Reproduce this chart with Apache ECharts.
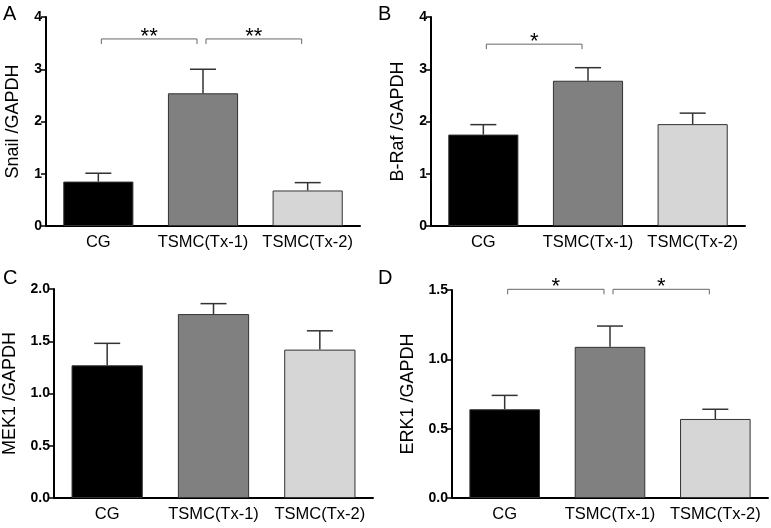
<!DOCTYPE html>
<html>
<head>
<meta charset="utf-8">
<script src="https://cdn.jsdelivr.net/npm/echarts@6/dist/echarts.min.js"></script>
<style>
html,body{margin:0;padding:0;background:#fff;}
#chart{width:771px;height:528px;}
</style>
</head>
<body>
<div id="chart"></div>
<script>
var categories = ['CG', 'TSMC(Tx-1)', 'TSMC(Tx-2)'];
var barColors = ['#000000', '#808080', '#d6d6d6'];

var snailMean = [0.85, 2.54, 0.68];
var snailErr = [0.16, 0.46, 0.15];
var brafMean = [1.75, 2.78, 1.95];
var brafErr = [0.19, 0.25, 0.21];
var mek1Mean = [1.27, 1.76, 1.42];
var mek1Err = [0.21, 0.10, 0.18];
var erk1Mean = [0.64, 1.09, 0.57];
var erk1Err = [0.10, 0.15, 0.07];

// brackets: [from, to, y, label]
var snailSig = [[0, 1, 3.58, '**'], [1, 2, 3.58, '**']];
var brafSig = [[0, 1, 3.48, '*']];
var mek1Sig = [];
var erk1Sig = [[0, 1, 1.505, '*'], [1, 2, 1.505, '*']];

var panels = [
    {name: 'Snail /GAPDH', mean: snailMean, err: snailErr, sig: snailSig, max: 4, interval: 1, dec: 0,
     grid: {left: 46, top: 17, width: 314, height: 209}},
    {name: 'B-Raf /GAPDH', mean: brafMean, err: brafErr, sig: brafSig, max: 4, interval: 1, dec: 0,
     grid: {left: 431, top: 17, width: 314, height: 209}},
    {name: 'MEK1 /GAPDH', mean: mek1Mean, err: mek1Err, sig: mek1Sig, max: 2, interval: 0.5, dec: 1,
     grid: {left: 53, top: 289, width: 320, height: 209}},
    {name: 'ERK1 /GAPDH', mean: erk1Mean, err: erk1Err, sig: erk1Sig, max: 1.5, interval: 0.5, dec: 1,
     grid: {left: 452, top: 290, width: 316, height: 208}}
];

var font = 'Liberation Sans, Arial, sans-serif';
var grids = [], xAxes = [], yAxes = [], series = [];

panels.forEach(function(p, i){
    grids.push(p.grid);
    xAxes.push({
        type: 'category', gridIndex: i, data: categories,
        axisLine: {lineStyle: {color: '#000', width: 2}},
        axisTick: {alignWithLabel: true, length: 5, lineStyle: {color: '#000', width: 1.5}},
        axisLabel: {color: '#000', fontSize: 16.5, fontFamily: font, margin: 8, interval: 0}
    });
    yAxes.push({
        type: 'value', gridIndex: i, min: 0, max: p.max, interval: p.interval,
        name: p.name, nameLocation: 'middle', nameGap: p.dec ? 35 : 24,
        nameTextStyle: {color: '#000', fontSize: 18, fontFamily: font},
        splitLine: {show: false},
        axisLine: {show: true, lineStyle: {color: '#000', width: 2}},
        axisTick: {show: true, length: 5, lineStyle: {color: '#000', width: 1.5}},
        axisLabel: {color: '#000', fontSize: 14, fontWeight: 'bold', fontFamily: font, margin: 4,
            formatter: function(v){ return v.toFixed(p.dec); }}
    });
    series.push({
        type: 'bar', xAxisIndex: i, yAxisIndex: i, barCategoryGap: '33%',
        data: p.mean.map(function(v, k){
            return {value: v, itemStyle: {color: barColors[k], borderColor: '#333', borderWidth: 1}};
        }),
        z: 2
    });
    series.push({
        type: 'custom', xAxisIndex: i, yAxisIndex: i, z: 3,
        data: p.mean.map(function(v, k){ return [k, v, v + p.err[k]]; }),
        renderItem: function(params, api){
            var a = api.coord([api.value(0), api.value(1)]);
            var b = api.coord([api.value(0), api.value(2)]);
            var st = {stroke: '#333', lineWidth: 1.5};
            return {type: 'group', children: [
                {type: 'line', shape: {x1: a[0], y1: a[1], x2: b[0], y2: b[1]}, style: st},
                {type: 'line', shape: {x1: b[0] - 13, y1: b[1], x2: b[0] + 13, y2: b[1]}, style: st}
            ]};
        }
    });
    if (p.sig.length) {
        series.push({
            type: 'custom', xAxisIndex: i, yAxisIndex: i, z: 4, clip: false,
            data: p.sig,
            renderItem: function(params, api){
                var a = api.coord([api.value(0), api.value(2)]);
                var b = api.coord([api.value(1), api.value(2)]);
                var x1 = a[0] + 3, x2 = b[0] - 6, y = a[1];
                var st = {stroke: '#666', lineWidth: 1, fill: null};
                return {type: 'group', children: [
                    {type: 'polyline', shape: {points: [[x1, y + 5], [x1, y], [x2, y], [x2, y + 5]]}, style: st},
                    {type: 'text', x: (x1 + x2) / 2, y: y - 13,
                     style: {text: p.sig[params.dataIndex][3], fill: '#000', fontSize: 22, fontFamily: font,
                             align: 'center', verticalAlign: 'top'}}
                ]};
            }
        });
    }
});

var myChart = echarts.init(document.getElementById('chart'));
myChart.setOption({
    animation: false,
    grid: grids,
    xAxis: xAxes,
    yAxis: yAxes,
    series: series,
    graphic: [
        {type: 'text', left: 3, top: 4, style: {text: 'A', fontSize: 20, fill: '#000', fontFamily: font}},
        {type: 'text', left: 378, top: 4, style: {text: 'B', fontSize: 20, fill: '#000', fontFamily: font}},
        {type: 'text', left: 3, top: 268, style: {text: 'C', fontSize: 20, fill: '#000', fontFamily: font}},
        {type: 'text', left: 378, top: 268, style: {text: 'D', fontSize: 20, fill: '#000', fontFamily: font}}
    ]
});
</script>
</body>
</html>
